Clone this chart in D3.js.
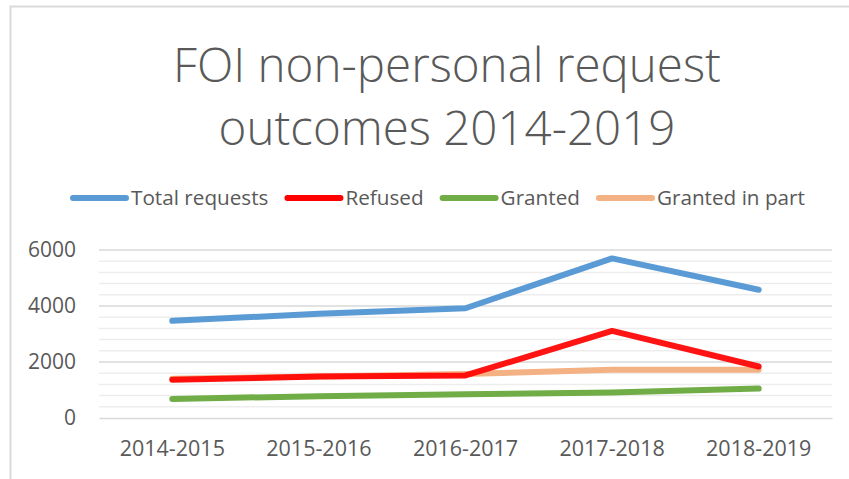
<!DOCTYPE html>
<html>
<head>
<meta charset="utf-8">
<script src="https://cdn.jsdelivr.net/npm/d3@7"></script>
<style>
  body { margin: 0; background: #fff; }
  svg { display: block; font-family: "Open Sans", sans-serif; }
</style>
</head>
<body>
<svg id="chart" width="849" height="479"></svg>
<script>
const years = ["2014-2015", "2015-2016", "2016-2017", "2017-2018", "2018-2019"];
const totalRequests = [3470, 3720, 3920, 5700, 4580];
const refused = [1370, 1480, 1520, 3110, 1840];
const granted = [680, 780, 850, 910, 1050];
const grantedInPart = [1400, 1480, 1570, 1720, 1720];
const yTicks = [0, 2000, 4000, 6000];

const series = [
    { name: "Total requests", values: totalRequests, color: "#5b9bd5" },
    { name: "Refused", values: refused, color: "#ff0000" },
    { name: "Granted", values: granted, color: "#70ad47" },
    { name: "Granted in part", values: grantedInPart, color: "#f4b183" },
];
// draw order: orange under the red line
const drawOrder = [0, 3, 2, 1];

const svg = d3.select("#chart");
const textColor = "#595959";

// chart border (only top/left visible)
svg.append("rect")
    .attr("x", 10.5).attr("y", 6.5)
    .attr("width", 900).attr("height", 600)
    .attr("fill", "none")
    .attr("stroke", "#d9d9d9")
    .attr("stroke-width", 2);

// title
const title = svg.append("text")
    .attr("text-anchor", "middle")
    .attr("fill", textColor)
    .style("font-size", "47.5px")
    .style("font-weight", 300);
title.append("tspan").attr("x", 447).attr("y", 82).text("FOI non-personal request");
title.append("tspan").attr("x", 447).attr("y", 145).text("outcomes 2014-2019");

const x = d3.scaleBand().domain(years).range([99, 832]);
const y = d3.scaleLinear().domain([0, 6000]).range([418, 250]);

// gridlines
const grid = svg.append("g");
grid.selectAll("line")
    .data(d3.range(400, 6001, 400))
    .enter()
    .append("line")
    .attr("x1", 99).attr("x2", 832)
    .attr("y1", d => y(d)).attr("y2", d => y(d))
    .attr("stroke", d => d % 2000 === 0 ? "#d9d9d9" : "#ededed")
    .attr("stroke-width", 1.5);

// x axis
const xAxis = svg.append("g")
    .attr("transform", `translate(0,${y(0)})`)
    .call(d3.axisBottom(x).tickSize(0).tickPadding(23));
xAxis.select(".domain").attr("stroke", "#d9d9d9").attr("stroke-width", 1.5);
xAxis.selectAll("text")
    .attr("fill", textColor)
    .style("font-size", "21.5px")
    .style("font-family", "Open Sans");

// y axis
const yAxis = svg.append("g")
    .attr("transform", "translate(76,0)")
    .call(d3.axisLeft(y).tickValues(yTicks).tickFormat(d3.format("d")).tickSize(0).tickPadding(0));
yAxis.select(".domain").remove();
yAxis.selectAll("text")
    .attr("fill", textColor)
    .style("font-size", "21px")
    .style("font-family", "Open Sans");

// lines
const line = d3.line()
    .x((d, i) => x(years[i]) + x.bandwidth() / 2)
    .y(d => y(d));

drawOrder.forEach(k => {
    const s = series[k];
    svg.append("path")
        .datum(s.values)
        .attr("d", line)
        .attr("fill", "none")
        .attr("stroke", s.color)
        .attr("stroke-width", 6)
        .attr("stroke-linecap", "round")
        .attr("stroke-linejoin", "round")
        .attr("opacity", k === 1 ? 0.92 : 1);
});

// legend
const legend = svg.append("g").attr("transform", "translate(0,198)");
let lx = 73;
series.forEach(s => {
    legend.append("line")
        .attr("x1", lx).attr("x2", lx + 53)
        .attr("y1", 0).attr("y2", 0)
        .attr("stroke", s.color)
        .attr("stroke-width", 6)
        .attr("stroke-linecap", "round");
    const t = legend.append("text")
        .attr("x", lx + 58)
        .attr("y", 0)
        .attr("dy", "0.35em")
        .attr("fill", textColor)
        .style("font-size", "20.7px")
        .text(s.name);
    lx += 58 + t.node().getComputedTextLength() + 19;
});
</script>
</body>
</html>
